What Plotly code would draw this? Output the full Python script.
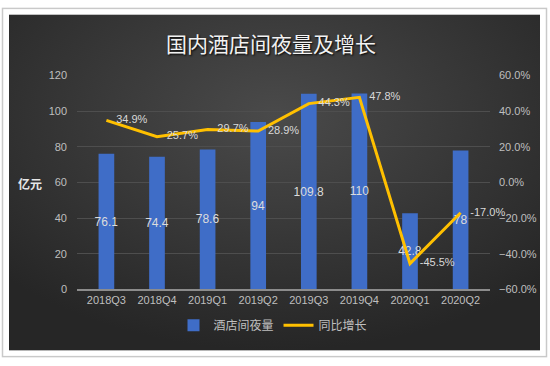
import base64
import plotly.graph_objects as go

quarters = ["2018Q3", "2018Q4", "2019Q1", "2019Q2", "2019Q3", "2019Q4", "2020Q1", "2020Q2"]
room_nights = [76.1, 74.4, 78.6, 94, 109.8, 110, 42.8, 78]
yoy_growth = [34.9, 25.7, 29.7, 28.9, 44.3, 47.8, -45.5, -17.0]
bar_labels = ["76.1", "74.4", "78.6", "94", "109.8", "110", "42.8", "78"]
line_labels = ["34.9%", "25.7%", "29.7%", "28.9%", "44.3%", "47.8%", "-45.5%", "-17.0%"]

W, H = 550, 366
FONT = "Liberation Sans, Arial, Noto Sans CJK SC, sans-serif"
CJK = "Noto Sans CJK SC, sans-serif"

svg = f'''<svg xmlns="http://www.w3.org/2000/svg" width="{W}" height="{H}" viewBox="0 0 {W} {H}" preserveAspectRatio="none">
<defs><radialGradient id="g" cx="0.5" cy="0.3" r="0.7">
<stop offset="0" stop-color="#4a4a4a"/><stop offset="1" stop-color="#262626"/></radialGradient></defs>
<rect x="0" y="0" width="{W}" height="{H}" fill="#ffffff"/>
<rect x="2.5" y="2.5" width="544" height="360" fill="#ffffff" stroke="#c9c9c9" stroke-width="1.5"/>
<rect x="9" y="9" width="531" height="347" fill="url(#g)"/>
</svg>'''
uri = "data:image/svg+xml;base64," + base64.b64encode(svg.encode()).decode()

fig = go.Figure()
fig.add_trace(go.Bar(
    x=quarters, y=room_nights, name="酒店间夜量",
    marker=dict(color="#3f6dc7", line=dict(width=0)),
    width=0.31,
    text=bar_labels, textposition="inside", insidetextanchor="middle",
    textangle=0, constraintext="none",
    textfont=dict(color="#dcdcdc", size=12, family=FONT),
    hoverinfo="skip",
))
fig.add_trace(go.Scatter(
    x=quarters, y=yoy_growth, name="同比增长", yaxis="y2",
    mode="lines+markers+text", line=dict(color="#ffc000", width=3),
    marker=dict(size=14, color="rgba(0,0,0,0)"),
    text=line_labels, textposition="middle right", cliponaxis=False,
    textfont=dict(color="#d9d9d9", size=11, family=FONT),
    hoverinfo="skip",
))

x0, x1 = 77 / W, 490 / W
y0, y1 = (H - 293) / H, (H - 72) / H

fig.update_layout(
    width=W, height=H,
    margin=dict(l=0, r=0, t=0, b=0),
    paper_bgcolor="#ffffff", plot_bgcolor="rgba(0,0,0,0)",
    images=[dict(source=uri, xref="paper", yref="paper", x=0, y=1,
                 sizex=1, sizey=1, xanchor="left", yanchor="top",
                 sizing="stretch", layer="below")],
    title=dict(text="国内酒店间夜量及增长", x=271 / W, xanchor="center",
               y=(H - 45) / H, yanchor="middle",
               font=dict(family=CJK, size=21, color="#f2f2f2",
                         shadow="1px 1px 2px #000000")),
    xaxis=dict(domain=[x0, x1], showgrid=False, showline=True,
               linecolor="#8c8c8c", linewidth=1.5, ticks="",
               tickfont=dict(family=FONT, size=11, color="#bfbfbf")),
    yaxis=dict(domain=[y0, y1], range=[0, 120], dtick=20, showgrid=True,
               gridcolor="#4e4e4e", gridwidth=1, zeroline=False,
               tickfont=dict(family=FONT, size=11, color="#bfbfbf"),
               ticklabelstandoff=9),
    yaxis2=dict(overlaying="y", side="right", range=[-60, 60], dtick=20,
                showgrid=False, zeroline=False, ticksuffix="%", tickformat=".1f",
                tickfont=dict(family=FONT, size=11, color="#bfbfbf"),
                ticklabelstandoff=8),
    legend=dict(orientation="h", x=273 / W, xanchor="center",
                y=(H - 330) / H, yanchor="middle",
                font=dict(family=CJK, size=12, color="#bfbfbf"),
                bgcolor="rgba(0,0,0,0)"),
    annotations=[dict(text="<b>亿元</b>", xref="paper", yref="paper",
                      x=44 / W, xanchor="right", y=(H - 183) / H,
                      showarrow=False,
                      font=dict(family=CJK, size=12, color="#e6e6e6"))],
    bargap=0.5,
)

fig.write_html(
    "out.html",
    config={"displayModeBar": False},
    post_script="document.body.style.margin='0';document.body.style.overflow='hidden';",
)
